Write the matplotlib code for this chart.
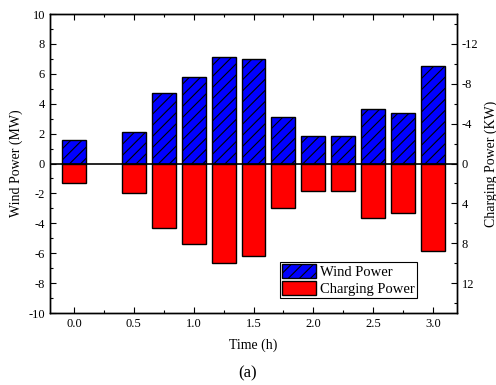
import matplotlib.pyplot as plt
import numpy as np

plt.rcParams['font.family'] = ['Liberation Serif', 'DejaVu Serif']
plt.rcParams['axes.unicode_minus'] = False
plt.rcParams['hatch.linewidth'] = 0.8

# data
times = [0.0, 0.5, 0.75, 1.0, 1.25, 1.5, 1.75, 2.0, 2.25, 2.5, 2.75, 3.0]
wind_power = [1.6, 2.14, 4.72, 5.77, 7.11, 6.96, 3.08, 1.87, 1.83, 3.65, 3.41, 6.55]
charging_power = [1.95, 3.0, 6.48, 8.09, 9.97, 9.26, 4.43, 2.79, 2.8, 5.44, 4.93, 8.73]

fig = plt.figure(figsize=(4.96, 3.85), dpi=100)
ax = fig.add_axes([0.1008, 0.187, 0.8206, 0.7766])
ax2 = ax.twinx()

b1 = ax.bar(times, wind_power, width=0.2, color='#0000FF', edgecolor='black',
            linewidth=1.0, hatch='///', label='Wind Power')
b2 = ax2.bar(times, charging_power, width=0.2, color='#FF0000', edgecolor='black',
             linewidth=1.0, label='Charging Power')
ax2.axhline(0, color='black', linewidth=1.2, zorder=5)

ax.set_xlim(-0.2, 3.2)
ax.set_ylim(-10, 10)
ax2.set_ylim(15, -15)

ax.set_xticks(np.arange(0, 3.01, 0.5))
ax.set_xticks(np.arange(0.25, 3.0, 0.5), minor=True)
ax.set_yticks(np.arange(-10, 10.1, 2))
ax.set_yticks(np.arange(-9, 10, 2), minor=True)
ax2.set_yticks(np.arange(-12, 12.1, 4))
ax2.set_yticks(np.arange(-14, 15, 4), minor=True)
ax.xaxis.set_major_formatter(plt.FormatStrFormatter('%.1f'))

ax.tick_params(axis='both', which='both', direction='in', labelsize=9, top=True)
ax.tick_params(which='major', length=4, width=0.8)
ax.tick_params(which='minor', length=2.5, width=0.8)
ax2.tick_params(axis='y', which='both', direction='in', labelsize=9)
ax2.tick_params(which='major', length=4, width=0.8)
ax2.tick_params(which='minor', length=2.5, width=0.8)
for a in (ax, ax2):
    for s in a.spines.values():
        s.set_linewidth(1.0)

ax.set_ylabel('Wind Power (MW)', fontsize=10, labelpad=4)
ax2.set_ylabel('Charging Power (KW)', fontsize=10, labelpad=4)
ax.set_xlabel('Time (h)', fontsize=10, labelpad=6)
fig.text(0.5, 0.02, '(a)', ha='center', fontsize=12)

leg = ax2.legend([b1, b2], ['Wind Power', 'Charging Power'], loc='lower left',
                 bbox_to_anchor=(0.565, 0.05), borderaxespad=0, fontsize=10.5,
                 fancybox=False, framealpha=1, edgecolor='black',
                 handlelength=2.3, handleheight=1.1, handletextpad=0.3,
                 labelspacing=0.15, borderpad=0.15)
leg.get_frame().set_linewidth(0.8)

fig.savefig('out.png', dpi=100)
